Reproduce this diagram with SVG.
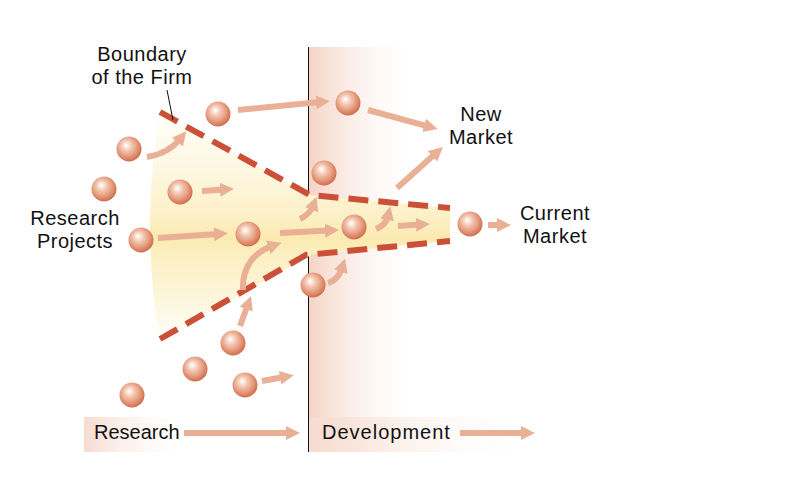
<svg xmlns="http://www.w3.org/2000/svg" width="800" height="478" viewBox="0 0 800 478">
<defs>
<radialGradient id="sph" cx="0.45" cy="0.42" r="0.6" fx="0.38" fy="0.34">
<stop offset="0" stop-color="#ffffff"/>
<stop offset="0.12" stop-color="#fdeee6"/>
<stop offset="0.35" stop-color="#f3c6b2"/>
<stop offset="0.62" stop-color="#e8a286"/>
<stop offset="0.85" stop-color="#d9805f"/>
<stop offset="1" stop-color="#c96a4c"/>
</radialGradient>
<linearGradient id="dev" x1="0" y1="0" x2="1" y2="0">
<stop offset="0" stop-color="#f5d3c5"/>
<stop offset="1" stop-color="#ffffff" stop-opacity="0"/>
</linearGradient>
<linearGradient id="lab" x1="0" y1="0" x2="1" y2="0">
<stop offset="0" stop-color="#f7dccf"/>
<stop offset="1" stop-color="#ffffff" stop-opacity="0"/>
</linearGradient>
<linearGradient id="glow" x1="0" y1="112" x2="0" y2="340" gradientUnits="userSpaceOnUse">
<stop offset="0" stop-color="#fffefa"/>
<stop offset="0.3" stop-color="#fdf6dc"/>
<stop offset="0.48" stop-color="#fcefc2"/>
<stop offset="0.55" stop-color="#fbeab0"/>
<stop offset="0.63" stop-color="#fcefc2"/>
<stop offset="0.82" stop-color="#fdf6dc"/>
<stop offset="1" stop-color="#fffefa"/>
</linearGradient>
<marker id="ah" viewBox="0 0 14 14" refX="4" refY="7" markerWidth="14" markerHeight="14" markerUnits="userSpaceOnUse" orient="auto">
<path d="M0,0 L14,7 L0,14 Z" fill="#eab096"/>
</marker>
<style>
.ar{fill:none;stroke:#eab096;stroke-width:6;marker-end:url(#ah)}
.sp{fill:url(#sph)}
.bd{fill:none;stroke:#cc4f37;stroke-width:6;stroke-dasharray:20 10}
.t{font-family:"Liberation Sans",Arial,sans-serif;font-size:20px;letter-spacing:0.5px;fill:#111;text-anchor:middle}
.tl{font-family:"Liberation Sans",Arial,sans-serif;font-size:20px;fill:#111}
</style>
</defs>
<rect x="0" y="0" width="800" height="478" fill="#ffffff"/>
<g id="development-zone">
<rect x="308" y="47" width="115" height="405" fill="url(#dev)"/>
<line x1="308.5" y1="47" x2="308.5" y2="452" stroke="#111" stroke-width="1"/>
</g>
<g id="funnel">
<path d="M160,112 L310,195 L450,208 L450,241 L313,254 L160,340 Q140,226 160,112 Z" fill="url(#glow)"/>
</g>
<g id="boundary">
<path class="bd" d="M160,112 L310,195 L450,208"/>
<path class="bd" d="M160,339 L306,255 L450,241"/>
<line x1="167" y1="90" x2="173" y2="120" stroke="#111" stroke-width="1"/>
</g>
<g id="connectors">
<path class="ar" d="M238,110 L320,102"/>
<path class="ar" d="M368,110 L428,126.4"/>
<path class="ar" d="M147,157 C160,155 172,149 180,139"/>
<path class="ar" d="M202,191 L224,189.5"/>
<path class="ar" d="M158,238 L218,234"/>
<path class="ar" d="M280,233 L329,230.5"/>
<path class="ar" d="M300,219 Q310,214 313,206"/>
<path class="ar" d="M243,290 C242,266 255,252 272,246"/>
<path class="ar" d="M240,326 L247.6,305.4"/>
<path class="ar" d="M328,283 Q338,280 342,268"/>
<path class="ar" d="M262,381 L284,377"/>
<path class="ar" d="M376,229 Q386,225 388,216"/>
<path class="ar" d="M398,226 L420,224.6"/>
<path class="ar" d="M397,188 L435.5,153.6"/>
<path class="ar" d="M488,225 L501,225"/>
</g>
<g id="spheres">
<circle class="sp" cx="218" cy="114" r="12.5"/>
<circle class="sp" cx="348" cy="103" r="12.5"/>
<circle class="sp" cx="129" cy="149" r="12.5"/>
<circle class="sp" cx="104" cy="189" r="12.5"/>
<circle class="sp" cx="180" cy="192" r="12.5"/>
<circle class="sp" cx="324" cy="173" r="12.5"/>
<circle class="sp" cx="141" cy="240" r="12.5"/>
<circle class="sp" cx="248" cy="234" r="12.5"/>
<circle class="sp" cx="354" cy="227" r="12.5"/>
<circle class="sp" cx="470" cy="224" r="12.5"/>
<circle class="sp" cx="313" cy="285" r="12.5"/>
<circle class="sp" cx="233" cy="343" r="12.5"/>
<circle class="sp" cx="195" cy="369" r="12.5"/>
<circle class="sp" cx="245" cy="385" r="12.5"/>
<circle class="sp" cx="132" cy="395" r="12.5"/>
</g>
<g id="label-boundary">
<text class="t" x="142" y="61">Boundary</text>
<text class="t" x="142" y="84">of the Firm</text>
</g>
<g id="label-research-projects">
<text class="t" x="75" y="225">Research</text>
<text class="t" x="75" y="248">Projects</text>
</g>
<g id="label-new-market">
<text class="t" x="481" y="121">New</text>
<text class="t" x="481" y="144">Market</text>
</g>
<g id="label-current-market">
<text class="t" x="555" y="220">Current</text>
<text class="t" x="555" y="243">Market</text>
</g>
<g id="stage-research">
<rect x="84" y="417" width="110" height="35" fill="url(#lab)"/>
<text class="tl" x="94" y="439">Research</text>
<path class="ar" d="M184,433 L290,433"/>
</g>
<g id="stage-development">
<rect x="309" y="417" width="235" height="35" fill="url(#lab)"/>
<text class="tl" x="322" y="439" letter-spacing="1">Development</text>
<path class="ar" d="M460,433 L525,433"/>
</g>
</svg>
